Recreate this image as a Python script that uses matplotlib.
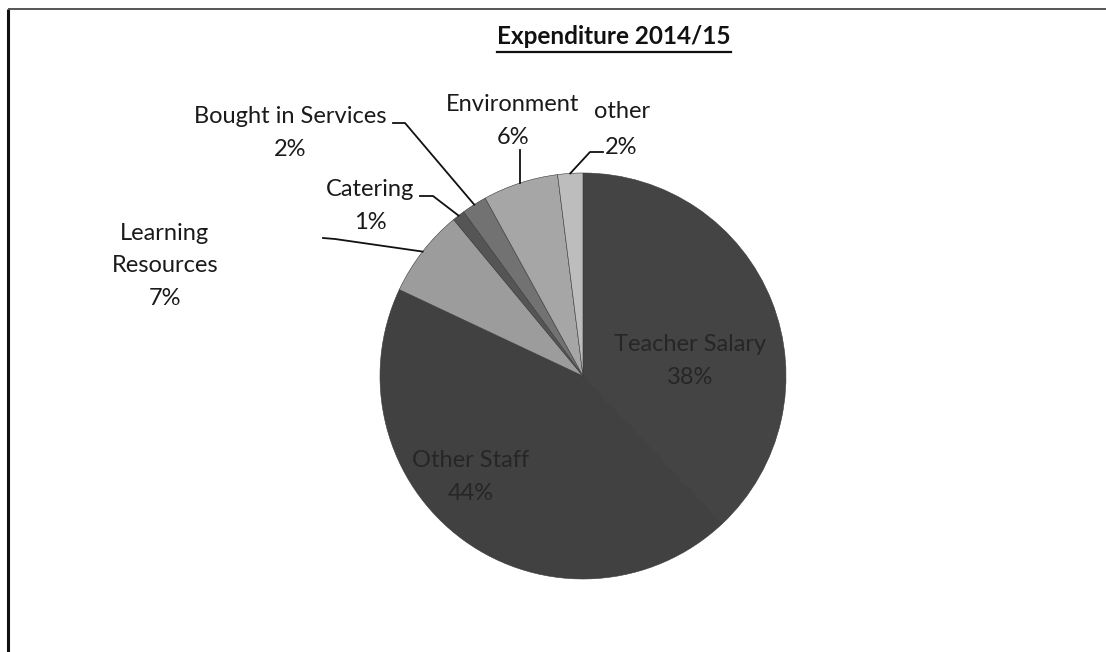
import numpy as np
import matplotlib
matplotlib.use('Agg')
import matplotlib.pyplot as plt

# data (percent of spend, clockwise from 12 o'clock)
categories = ['Teacher Salary', 'Other Staff', 'Learning\nResources', 'Catering',
              'Bought in Services', 'Environment', 'other']
shares = [38, 44, 7, 1, 2, 6, 2]
colours = ['#444444', '#414141', '#9c9c9c', '#555555', '#727272', '#a6a6a6', '#bdbdbd']

plt.rcParams['font.family'] = ['Lato', 'DejaVu Sans']

fig = plt.figure(figsize=(11.06, 6.52), dpi=100)
ax = fig.add_axes([0, 0, 1, 1])

cx, cy, r = 583, 376, 203
# y axis is inverted, so counterclock=True draws clockwise on screen
wedges, _ = ax.pie(shares, colors=colours, startangle=-90, counterclock=True,
                   center=(cx, cy), radius=r, frame=True,
                   wedgeprops=dict(edgecolor='#3a3a3a', linewidth=0.4))
ax.set_xlim(0, 1106)
ax.set_ylim(652, 0)
ax.axis('off')

# frame of the scanned chart area
ax.plot([8, 8], [9, 652], color='#111111', lw=2.2, solid_capstyle='butt')
ax.plot([8, 1106], [9, 9], color='#555555', lw=1.4, solid_capstyle='butt')

# title
title = ax.text(614, 37, 'Expenditure 2014/15', ha='center', va='center',
                fontsize=17.5, fontweight='bold', color='#111111')
fig.canvas.draw()
bb = title.get_window_extent(fig.canvas.get_renderer())
inv = ax.transData.inverted()
(x0, y0), (x1, y1) = inv.transform([[bb.x0, bb.y0], [bb.x1, bb.y1]])
ax.plot([x0, x1], [y0 + 3, y0 + 3], color='#111111', lw=1.6)


def edge_point(i):
    start = sum(shares[:i]) / sum(shares) * 360
    mid = np.radians(start + shares[i] / sum(shares) * 180)
    return cx + r * np.sin(mid), cy - r * np.cos(mid)


lab = dict(fontsize=17, color='#1a1a1a', ha='center', va='center', linespacing=1.7)

# labels inside the two big slices
ax.text(690, 361, f'{categories[0]}\n{shares[0]}%', **dict(lab, color='#262626'))
ax.text(471, 477, f'{categories[1]}\n{shares[1]}%', **dict(lab, color='#262626'))

# outside labels
ax.text(165, 266, f'{categories[2]}\n{shares[2]}%', **lab)
ax.text(370, 206, f'{categories[3]}\n{shares[3]}%', **lab)
ax.text(290, 133, f'{categories[4]}\n{shares[4]}%', **lab)
ax.text(513, 121, f'{categories[5]}\n{shares[5]}%', **lab)
ax.text(622, 112, categories[6], **lab)
ax.text(621, 147, f'{shares[6]}%', **lab)

# leader lines
line = dict(color='#111111', lw=1.3)
ex, ey = edge_point(2)
ax.plot([323, 335, ex], [238, 239, ey], **line)
ex, ey = edge_point(3)
ax.plot([420, 433, ex], [196, 196, ey], **line)
ex, ey = edge_point(4)
ax.plot([393, 405, ex], [123, 123, ey], **line)
ex, ey = edge_point(5)
ax.plot([ex, ex], [150, ey], **line)
ex, ey = edge_point(6)
ax.plot([603, 590, ex], [152, 152, ey], **line)

fig.savefig('out.png', dpi=100, facecolor='white')
